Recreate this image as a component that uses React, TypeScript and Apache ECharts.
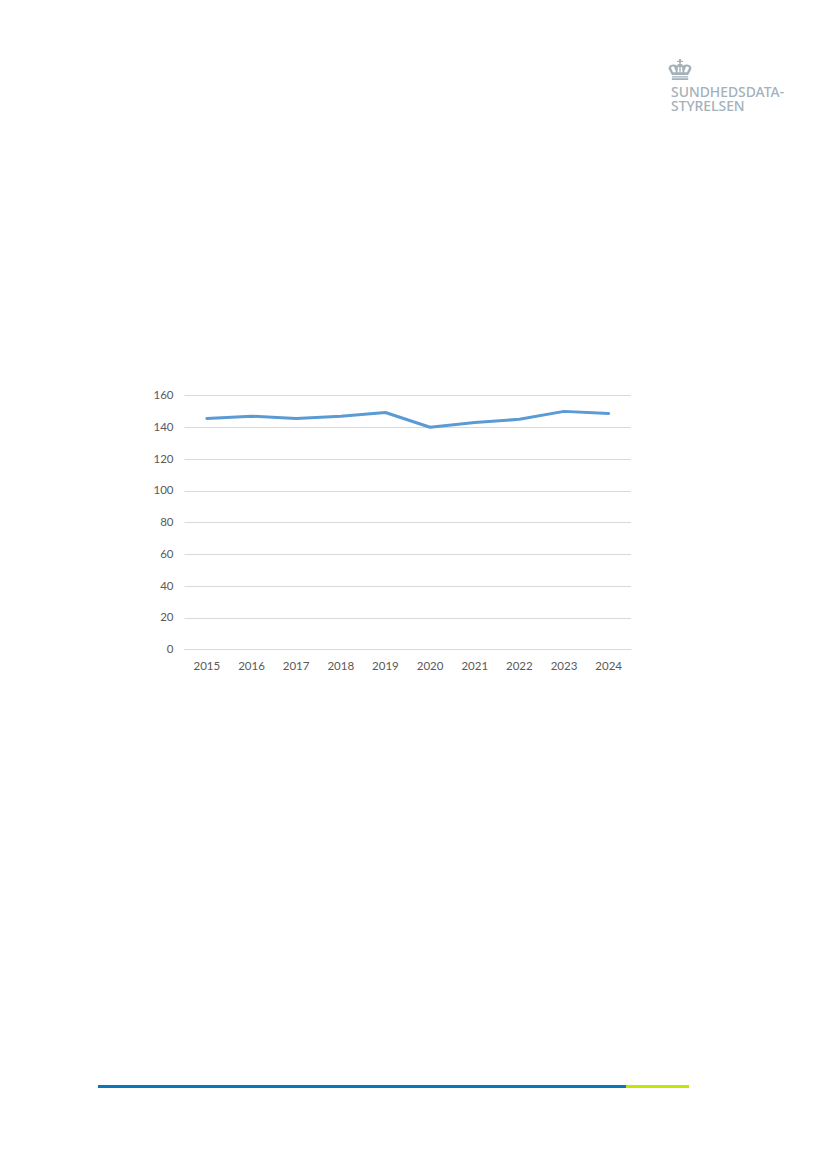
import React, { useEffect, useRef } from "react";
import * as echarts from "echarts";

const years = ["2015", "2016", "2017", "2018", "2019", "2020", "2021", "2022", "2023", "2024"];
const values = [145.5, 147, 145.5, 147, 149.3, 140, 143, 145, 150, 148.7];
const yMin = 0;
const yMax = 160;
const yInterval = 20;
const logoLines = ["SUNDHEDSDATA-", "STYRELSEN"];

const crownPath =
  "M11 0h2v2h2v1.500h-2V5h-2V3.500H9V2h2z " +
  "M12 5.500c2 0 3 1 3 2.200 2-1.600 5-1.800 7-.6 2.200 1.400 2.400 4 1 6l-2.600 5H3.600L1 13.100c-1.400-2-1.200-4.600 1-6 2-1.200 5-1 7 .6 0-1.200 1-2.200 3-2.200z " +
  "M3.500 19.500h17V21h-17z M3.500 22h17v1.800h-17z";
const crownHoles =
  "M4.500 8.500c-1.500 0-2.200 1.300-1.500 3l1.800 3.500h3L6.500 10.500c-.4-1.300-1.100-2-2-2z " +
  "M19.500 8.500c-.9 0-1.600.7-2 2L16.200 15h3l1.800-3.500c.7-1.700 0-3-1.500-3z " +
  "M9.800 9l-.4 6h1.900V9z M12.700 9v6h1.900l-.4-6z";

echarts.graphic.registerShape("crownLogo", echarts.graphic.extendPath(crownPath, {}) as any);
echarts.graphic.registerShape("crownHoles", echarts.graphic.extendPath(crownHoles, {}) as any);

const logoColor = "#a3b1ba";
const labelFont = "Lato";

export default function App() {
  const ref = useRef<HTMLDivElement>(null);
  useEffect(() => {
    const chart = echarts.init(ref.current!, undefined, { renderer: "svg" });
    chart.setOption({
      animation: false,
      backgroundColor: "#ffffff",
      grid: { left: 184.5, right: 827 - 631, top: 395.5, bottom: 1169 - 649.5 },
      xAxis: {
        type: "category",
        data: years,
        boundaryGap: true,
        axisLine: { show: true, lineStyle: { color: "#d9d9d9", width: 1 } },
        axisTick: { show: false },
        axisLabel: { color: "#595959", fontFamily: labelFont, fontSize: 11.5, margin: 10 },
      },
      yAxis: {
        type: "value",
        min: yMin,
        max: yMax,
        interval: yInterval,
        axisLine: { show: false },
        axisTick: { show: false },
        axisLabel: { color: "#595959", fontFamily: labelFont, fontSize: 11.5, margin: 11, verticalAlign: "bottom", lineHeight: 2 },
        splitLine: { lineStyle: { color: "#d9d9d9", width: 1 } },
      },
      series: [
        {
          type: "line",
          data: values,
          showSymbol: false,
          symbol: "none",
          lineStyle: { color: "#5b9bd5", width: 3, cap: "round", join: "round" },
        },
      ],
      graphic: [
        { type: "rect", silent: true, shape: { x: 98, y: 1085, width: 528, height: 3 }, style: { fill: "#0878be" } },
        { type: "rect", silent: true, shape: { x: 626, y: 1085, width: 63, height: 3 }, style: { fill: "#c4e600" } },
        {
          type: "text",
          silent: true,
          x: 671,
          y: 84,
          style: { text: logoLines.join("\n"), fill: logoColor, font: "500 13.900px 'Noto Sans'", lineHeight: 14.5 },
        },
        { type: "crownLogo", silent: true, x: 668.5, y: 59, scaleX: 0.96, scaleY: 0.88, style: { fill: logoColor } },
        { type: "crownHoles", silent: true, x: 668.5, y: 59, scaleX: 0.96, scaleY: 0.88, style: { fill: "#ffffff" } },
      ],
    });
    return () => chart.dispose();
  }, []);
  return <div ref={ref} style={{ position: "absolute", left: 0, top: 0, width: 827, height: 1169 }} />;
}
